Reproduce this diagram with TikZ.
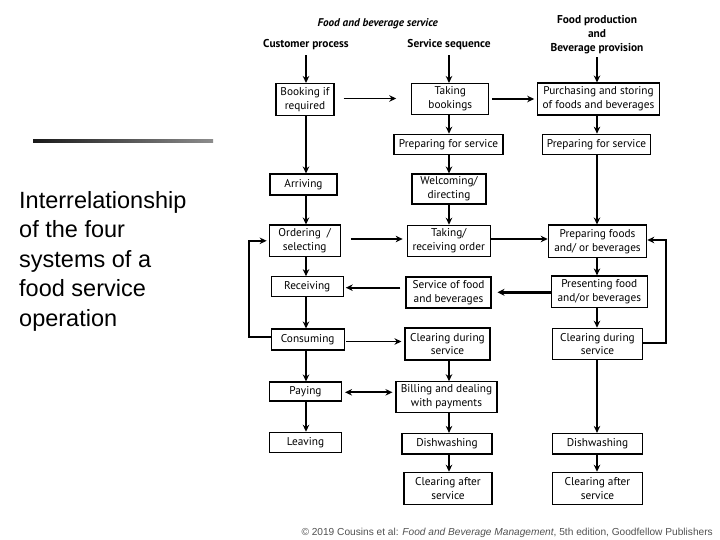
\documentclass[tikz,border=0pt]{standalone}
\usepackage{fontspec}
\setmainfont{Liberation Sans}
\newfontfamily\diafont{PT Sans}
\usetikzlibrary{arrows.meta}
\begin{document}
\begin{tikzpicture}[x=1pt,y=-1pt,
  box/.style={draw, line width=1.1pt, align=center, inner sep=0pt,
    font=\diafont\fontsize{11.3}{13.8}\selectfont},
  wh/.style 2 args={minimum width=#1pt, minimum height=#2pt},
  hdr/.style={font=\diafont\bfseries\fontsize{11.4}{14}\selectfont, align=center, inner sep=0pt},
  arr/.style={line width=1.8pt, -{Stealth[length=7pt,width=6.5pt]}},
  thinarr/.style={line width=1.3pt, -{Stealth[length=7pt,width=6.5pt]}},
  thickarr/.style={line width=3pt, -{Stealth[length=7pt,width=7pt]}},
  dblarr/.style={line width=1.8pt, {Stealth[length=7pt,width=6.5pt]}-{Stealth[length=7pt,width=6.5pt]}}
]
\useasboundingbox[fill=white] (0,0) rectangle (720,540);

% left title
\shade[left color=black!90, right color=black!45] (33,139.5) rectangle (213,142.5);
\node[anchor=base west, align=left, inner sep=0pt, font=\fontsize{23.5}{29.5}\selectfont] (title) at (19,326.3)
  {Interrelationship\\of the four\\systems of a\\food service\\operation};

% column x coordinates
\coordinate (c1) at (306,0);
\coordinate (c2) at (449,0);
\coordinate (c3) at (597,0);

% headers
\node[hdr, font=\diafont\bfseries\itshape\fontsize{11.2}{13}\selectfont] (fbs) at (377.7,24) {Food and beverage service};
\node[hdr] (h1) at (306,45) {Customer process};
\node[hdr] (h2) at (449,45) {Service sequence};
\node[hdr] (h3) at (597,35) {Food production\\and\\Beverage provision};

% column 1
\node[box,wh={58}{32}] (book) at (305,99.5) {Booking if\\required};
\node[box,wh={67}{21}] (arr) at (303.5,184.5) {Arriving};
\node[box,wh={71}{31.5}] (ord) at (304.7,240.8) {Ordering \ /\\selecting};
\node[box,wh={72}{20}] (rec) at (307.2,286.7) {Receiving};
\node[box,wh={73}{21}] (cons) at (307.7,339.5) {Consuming};
\node[box,wh={72}{19}] (pay) at (305.5,391.5) {Paying};
\node[box,wh={72}{20}] (leave) at (305.5,442.3) {Leaving};

% column 2
\node[box,wh={77}{31}] (tbook) at (450.3,99) {Taking\\bookings};
\node[box,wh={109}{20.5}] (prep2) at (448.5,144.5) {Preparing for service};
\node[box,wh={74}{30}] (welc) at (449,189) {Welcoming/\\directing};
\node[box,wh={83}{31.5}] (tord) at (448.7,241) {Taking/\\receiving order};
\node[box,wh={85}{31}] (serv) at (448.5,292.5) {Service of food\\and beverages};
\node[box,wh={85}{32}] (clr2) at (447.5,344) {Clearing during\\service};
\node[box,wh={101}{30.5}] (bill) at (446.5,397) {Billing and dealing\\with payments};
\node[box,wh={90}{20.5}] (dish2) at (447,443.7) {Dishwashing};
\node[box,wh={88}{32}] (clra2) at (448,488.3) {Clearing after\\service};

% column 3
\node[box,wh={121.5}{32}] (purch) at (598.5,99) {Purchasing and storing\\of foods and beverages};
\node[box,wh={108.5}{20}] (prep3) at (596.5,144.2) {Preparing for service};
\node[box,wh={98.5}{32.5}] (pfood) at (597.5,241.3) {Preparing foods\\and/ or beverages};
\node[box,wh={96.5}{31.5}] (pres) at (599.3,291.7) {Presenting food\\and/or beverages};
\node[box,wh={90.5}{31.5}] (clr3) at (597.5,344) {Clearing during\\service};
\node[box,wh={90.5}{20.5}] (dish3) at (597.5,443.7) {Dishwashing};
\node[box,wh={90.5}{32}] (clra3) at (597.5,488.3) {Clearing after\\service};

% footer
\node[anchor=base east, inner sep=0pt, text=black!68, font=\fontsize{10.15}{12}\selectfont] (foot) at (713,535)
  {\textcopyright{} 2019 Cousins et al: \textit{Food and Beverage Management}, 5th edition, Goodfellow Publishers};

% header arrows
\draw[arr, shorten <=5pt] (h1.south -| c1) -- (book.north -| c1);
\draw[arr, shorten <=5pt] (h2.south -| c2) -- (tbook.north -| c2);
\draw[arr, shorten <=3pt] (h3.south -| c3) -- (purch.north -| c3);

% column 1 verticals
\draw[arr] (book.south -| c1) -- (arr.north -| c1);
\draw[arr] (arr.south -| c1) -- (ord.north -| c1);
\draw[arr] (ord.south -| c1) -- (rec.north -| c1);
\draw[arr] (rec.south -| c1) -- (cons.north -| c1);
\draw[arr] (cons.south -| c1) -- (pay.north -| c1);
\draw[arr] (pay.south -| c1) -- (leave.north -| c1);

% column 2 verticals
\draw[arr] (tbook.south -| c2) -- (prep2.north -| c2);
\draw[arr] (prep2.south -| c2) -- (welc.north -| c2);
\draw[arr] (welc.south -| c2) -- (tord.north -| c2);
\draw[arr] (clr2.south -| c2) -- (bill.north -| c2);
\draw[arr] (bill.south -| c2) -- (dish2.north -| c2);
\draw[arr] (dish2.south -| c2) -- (clra2.north -| c2);

% column 3 verticals
\draw[arr] (purch.south -| c3) -- (prep3.north -| c3);
\draw[arr] (prep3.south -| c3) -- (pfood.north -| c3);
\draw[arr] (pfood.south -| c3) -- (pres.north -| c3);
\draw[arr] (pres.south -| c3) -- (clr3.north -| c3);
\draw[arr] (clr3.south -| c3) -- (dish3.north -| c3);
\draw[arr] (dish3.south -| c3) -- (clra3.north -| c3);

% horizontal links
\draw[arr, shorten <=9pt, shorten >=15pt] (tbook.west |- 0,98.5) coordinate (tmp) (book.east |- tmp) -- (tmp);
\draw[arr, shorten <=3pt, shorten >=3pt] (tbook.east |- 0,99) -- (purch.west |- 0,99);
\draw[arr, shorten <=10pt, shorten >=4pt] (ord.east |- 0,239) -- (tord.west |- 0,239);
\draw[thinarr] (tord.east |- 0,239) -- (pfood.west |- 0,239);
\draw[thickarr, shorten >=6pt] (pres.west |- 0,292.3) -- (serv.east |- 0,292.3);
\draw[arr, shorten <=5pt, shorten >=2pt] (serv.west |- 0,287.7) -- (rec.east |- 0,287.7);
\draw[arr, shorten <=1pt, shorten >=3pt] (cons.east |- 0,341.5) -- (clr2.west |- 0,341.5);
\draw[dblarr, shorten <=3pt, shorten >=3pt] (pay.east |- 0,392.3) -- (bill.west |- 0,392.3);

% loops
\draw[arr, shorten >=2pt] (cons.west |- 0,337) -- ++(-21.7,0) |- (ord.west);
\draw[arr] (clr3.east |- 0,342.7) -- ++(23,0) |- (pfood.east |- 0,240);
\end{tikzpicture}
\end{document}
